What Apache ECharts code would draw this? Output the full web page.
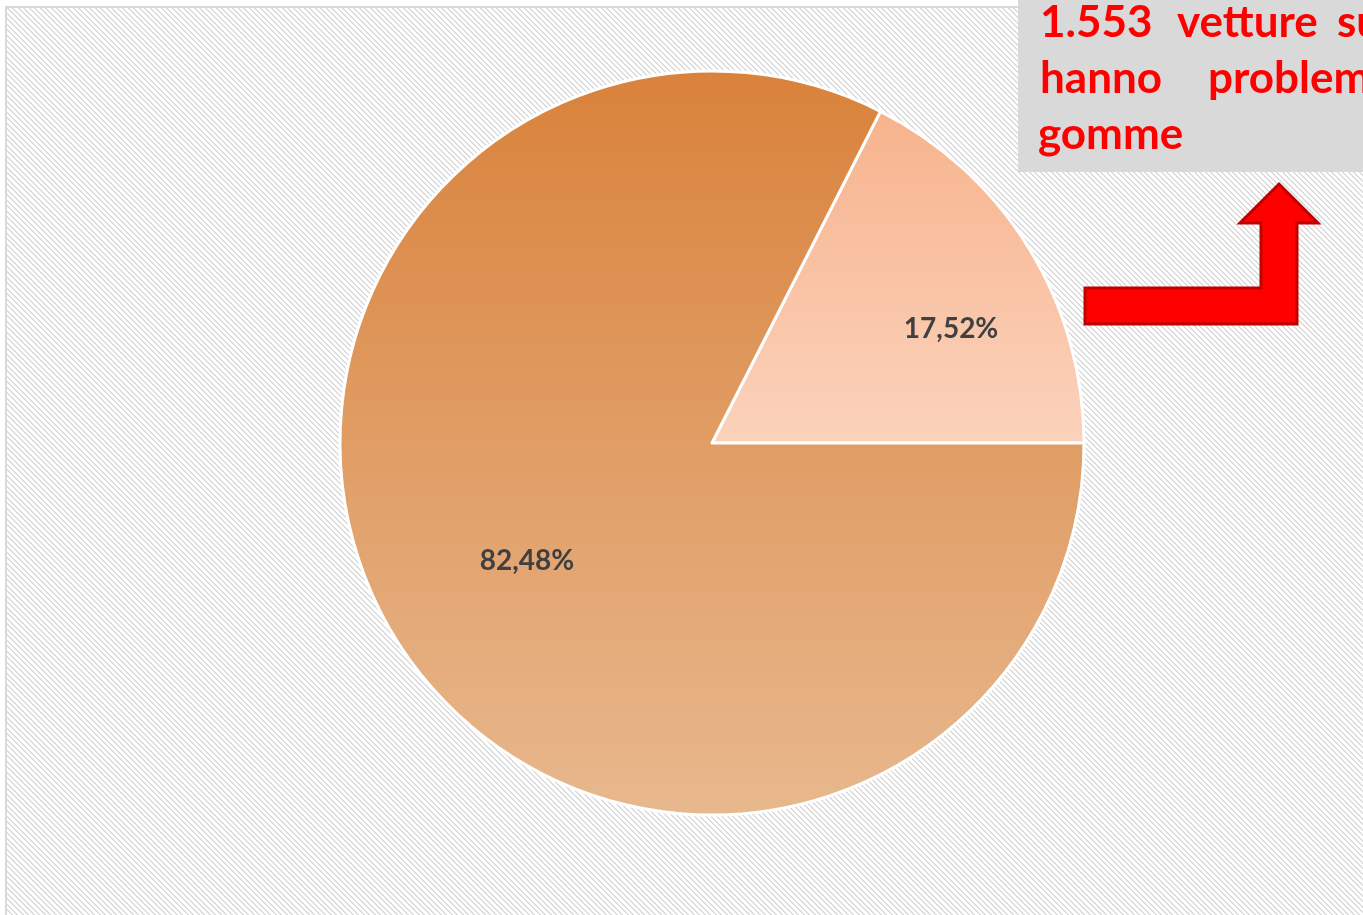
<!DOCTYPE html>
<html>
<head>
<meta charset="utf-8">
<script src="https://cdn.jsdelivr.net/npm/echarts@6/dist/echarts.min.js"></script>
<style>
html,body{margin:0;padding:0;background:#fff;width:1363px;height:915px;overflow:hidden;}
#bg{position:absolute;left:5px;top:6px;width:1370px;height:920px;box-sizing:border-box;border:2px solid #d9d9d9;background-color:#fff;}
#chart{position:absolute;left:0;top:0;width:1363px;height:915px;}
</style>
</head>
<body>
<div id="bg"></div>
<div id="chart"></div>
<script>
// Data
const categories = ['Con problemi gomme', 'Senza problemi gomme'];
const values = [17.52, 82.48];
const noteWords = [
  ['1.553', 'vetture', 'su'],
  ['hanno', 'problemi'],
  ['gomme']
];

// Styling / layout (not data)
const sliceGradients = [
  ['#f7b38d', '#fbd2bc'],
  ['#d9823b', '#e8b88e']
];
const labelShift = [[78, -15], [-24, 19]];
const noteWordX = [
  [1040, 1177, 1337],
  [1040, 1208],
  [1038]
];
const noteLineTop = [1, 57, 113];

// hatch pattern (downward diagonal)
(function () {
  const P = 11;
  const c = document.createElement('canvas');
  c.width = P; c.height = P;
  const ctx = c.getContext('2d');
  ctx.fillStyle = '#ffffff';
  ctx.fillRect(0, 0, P, P);
  ctx.fillStyle = '#dcdcdc';
  for (let y = 0; y < P; y++) {
    for (let x = 0; x < P; x++) {
      const d = ((x - y) % P + P) % P;
      if (d === 0 || d === 1 || d === 5 || d === 6) ctx.fillRect(x, y, 1, 1);
    }
  }
  const bg = document.getElementById('bg');
  bg.style.backgroundImage = 'url(' + c.toDataURL() + ')';
  bg.style.backgroundRepeat = 'repeat';
})();

const chart = echarts.init(document.getElementById('chart'), null, {renderer: 'canvas'});

const pieData = categories.map((c, i) => ({
  name: c,
  value: values[i],
  itemStyle: {
    color: new echarts.graphic.LinearGradient(0, 0, 0, 1, [
      {offset: 0, color: sliceGradients[i][0]},
      {offset: 1, color: sliceGradients[i][1]}
    ])
  }
}));

const noteGraphics = [];
noteWords.forEach((line, li) => {
  line.forEach((w, wi) => {
    noteGraphics.push({
      type: 'text', z: 101,
      x: noteWordX[li][wi], y: noteLineTop[li],
      style: {text: w, fill: '#ff0000', font: 'bold 44px Lato', textVerticalAlign: 'top'}
    });
  });
});

const option = {
  backgroundColor: 'transparent',
  animation: false,
  series: [{
    type: 'pie',
    center: [712, 443],
    radius: [0, 372],
    startAngle: 0,
    clockwise: false,
    data: pieData,
    itemStyle: {borderColor: '#ffffff', borderWidth: 3},
    label: {
      show: true,
      position: 'inside',
      fontFamily: 'Lato',
      fontWeight: 'bold',
      fontSize: 28,
      color: '#404040',
      formatter: p => p.value.toFixed(2).replace('.', ',') + '%'
    },
    labelLine: {show: false},
    labelLayout: p => ({dx: labelShift[p.dataIndex][0], dy: labelShift[p.dataIndex][1]}),
    emphasis: {disabled: true}
  }],
  graphic: [
    {
      type: 'rect', z: 100,
      shape: {x: 1018, y: -5, width: 400, height: 177},
      style: {fill: '#d9d9d9'}
    },
    ...noteGraphics,
    {
      type: 'polygon', z: 100,
      shape: {points: [[1085,288],[1261,288],[1261,223],[1240,223],[1279,184],[1318,223],[1297,223],[1297,324],[1085,324]]},
      style: {fill: '#ff0000', stroke: '#c00000', lineWidth: 3}
    }
  ]
};
chart.setOption(option);
</script>
</body>
</html>
